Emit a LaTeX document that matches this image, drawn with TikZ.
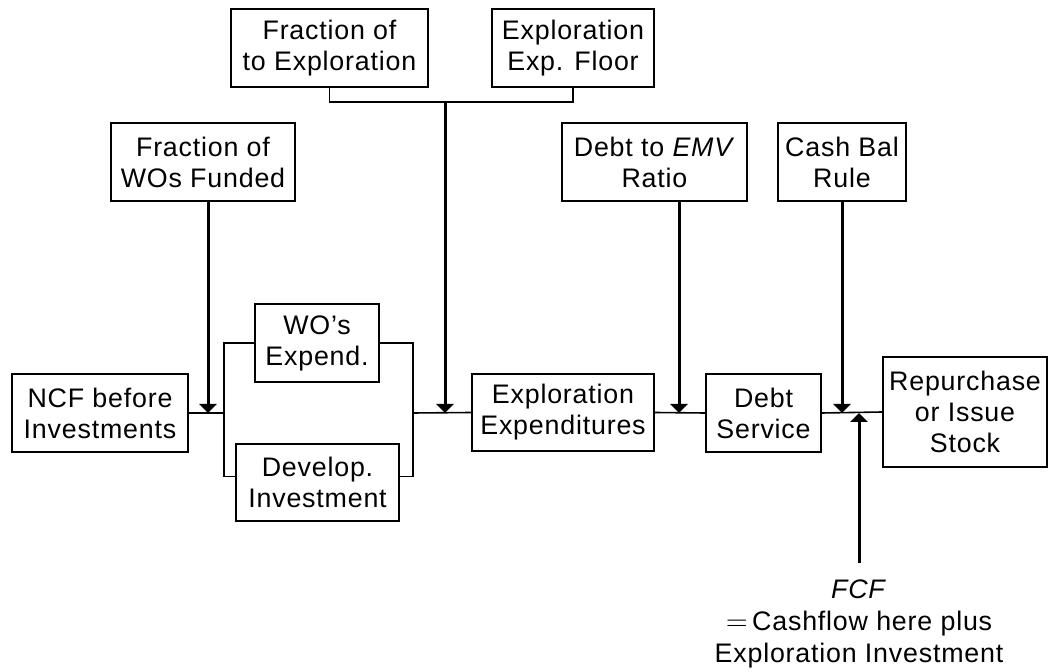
\documentclass[tikz,border=0pt]{standalone}
\usepackage{fontspec}
\setmainfont{Liberation Sans}[LetterSpace=3]
\usetikzlibrary{arrows.meta}

\begin{document}
\begin{tikzpicture}[x=0.5pt, y=-0.5pt, font=\fontsize{13.4}{15.5}\selectfont, line width=0.8pt,
  blk/.style={draw, rectangle, align=center, inner sep=0pt, minimum height=39pt},
  arw/.style={line width=1.5pt, -{Triangle[width=8.5pt,length=4.5pt]}}]
  \useasboundingbox (0,0) rectangle (1048,672);

  % inputs along the top
  \node[blk, minimum width=98.5pt] (tofrac) at (329.5,48) {Fraction of\\to Exploration};
  \node[blk, minimum width=81pt] (expfloor) at (573,48) {Exploration\\Exp. Floor};
  \node[blk, minimum width=92pt] (wofund) at (203,162) {Fraction of\\WOs Funded};
  \node[blk, minimum width=92.5pt] (debtemv) at (654.5,162) {Debt to \textit{EMV}\\Ratio};
  \node[blk, minimum width=64pt] (cashbal) at (842,162) {Cash Bal\\Rule};

  % main chain
  \node[blk, minimum width=88pt] (ncf) at (100,413) {NCF before\\Investments};
  \node[blk, minimum width=62pt] (woexp) at (317,343) {WO’s\\Expend.};
  \node[blk, minimum width=81.5pt, minimum height=38.5pt] (devinv) at (317.5,482.5) {Develop.\\Investment};
  \node[blk, minimum width=91pt, minimum height=38.5pt] (explexp) at (563,412.5) {Exploration\\Expenditures};
  \node[blk, minimum width=57.5pt] (debtsvc) at (763.5,413) {Debt\\Service};
  \node[blk, minimum width=82pt, minimum height=55pt] (stock) at (965,412) {Repurchase\\or Issue\\Stock};

  \node[align=center, inner sep=0pt, font=\fontsize{13.4}{16.2}\selectfont] (fcf) at (859,624)
  {\textit{FCF}\\$=$\,Cashflow here plus\\Exploration Investment};

  \coordinate (jl) at (224,413);
  \coordinate (jr) at (413,413);
  \coordinate (tb) at (445,102);
  \coordinate (p1) at (208,413);
  \coordinate (p2) at (445,413);
  \coordinate (p3) at (679,413);
  \coordinate (p4) at (842,413);
  \coordinate (p5) at (859,413);

  \draw (ncf.east) -- (jl);
  \draw (woexp.west) -| (jl) |- ([yshift=3pt]devinv.west);
  \draw (woexp.east) -| (jr) |- ([yshift=3pt]devinv.east);
  \draw (jr) -- (explexp.west);
  \draw (explexp.east) -- (debtsvc.west);
  \draw (debtsvc.east) -- (stock.west);
  \draw (tofrac.south) |- (tb) -| (expfloor.south);

  \draw[arw] (wofund.south -| p1) -- (p1);
  \draw[arw] (tb) -- (p2);
  \draw[arw] (debtemv.south -| p3) -- (p3);
  \draw[arw] (cashbal.south) -- (p4);
  \draw[arw] ([yshift=8pt]fcf.north) -- (p5);
\end{tikzpicture}
\end{document}
